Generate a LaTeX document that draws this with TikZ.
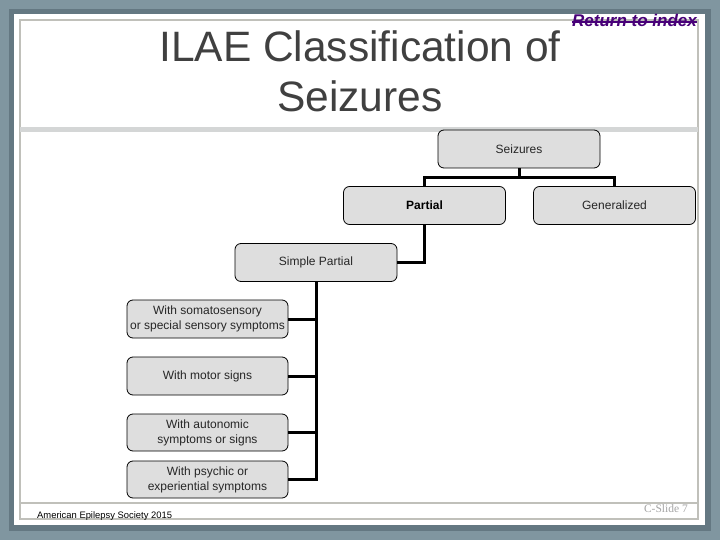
\documentclass[tikz,border=0pt]{standalone}
\usepackage{fontspec}
\setmainfont{Liberation Sans}
\newfontfamily\slidefont{Liberation Serif}
\usetikzlibrary{calc}
\definecolor{figback}{RGB}{128,150,160}
\definecolor{figshade}{RGB}{100,120,130}
\definecolor{figrule}{RGB}{192,192,186}
\definecolor{figband}{RGB}{212,214,214}
\definecolor{figbox}{RGB}{222,222,222}
\definecolor{figtitle}{RGB}{64,64,64}
\definecolor{figlink}{RGB}{72,0,120}
\definecolor{figslide}{RGB}{165,165,165}
\tikzset{
  box/.style  ={draw=black, fill=figbox, line width=0.8pt, rounded corners=6pt,
                minimum width=162pt, minimum height=38pt, inner sep=1pt, align=center,
                font=\fontsize{12}{15}\selectfont, text=black!85},
  boxb/.style ={box, font=\fontsize{12}{15}\selectfont\bfseries, text=black},
  conn/.style ={draw=black, line width=3pt},
  ttl/.style  ={font=\fontsize{42.5}{50}\selectfont, text=figtitle, inner sep=0pt},
  lab/.style  ={inner sep=0pt},
}

\begin{document}
\begin{tikzpicture}[x=1pt,y=-1pt]
  \useasboundingbox (0,0) rectangle (720,540);
  \fill[figback] (0,0) rectangle (720,540);
  \fill[figshade] (9,9) rectangle (711,531);
  \fill[white] (14,14) rectangle (705,525);
  \draw[figrule, line width=2pt] (20,20) rectangle (698,519);
  \fill[figband] (20,127) rectangle (698,132);
  \draw[figrule, line width=2pt] (20,503) -- (698,503);
  % title
  \node[ttl, anchor=base] (title1) at (360,62) {ILAE Classification of};
  \node[ttl, anchor=base] (title2) at (360,112) {Seizures};
  \node[lab, anchor=base east, text=figlink, font=\fontsize{17}{17}\selectfont\bfseries\itshape]
    (index) at (697,27) {Return to index};
  \draw[figlink, line width=1.3pt] ($(index.base west)+(0,-5)$) -- ($(index.base east)+(0,-5)$);
  % tree
  \node[box]  (seiz) at (519,149)   {Seizures};
  \node[boxb] (part) at (424.5,205.5) {Partial};
  \node[box]  (gen)  at (614.5,205.5) {Generalized};
  \node[box]  (simp) at (316,262.5) {Simple Partial};
  \node[box, minimum width=161pt] (soma) at (207.5,319)   {With somatosensory\\or special sensory symptoms};
  \node[box, minimum width=161pt] (motor) at (207.5,376)  {With motor signs};
  \node[box, minimum width=161pt, minimum height=37pt] (auto) at (207.5,432.5) {With autonomic\\symptoms or signs};
  \node[box, minimum width=161pt, minimum height=37pt] (psy) at (207.5,479.5)  {With psychic or\\experiential symptoms};
  \draw[conn] (seiz.south) -- ++(0,9) coordinate (hub);
  \draw[conn] (part.north) |- (hub) -| (gen.north);
  \draw[conn] (part.south) |- (simp.east);
  \foreach \leaf in {soma,motor,auto,psy}
    \draw[conn] (\leaf.east) -| (simp.south);
  % footer
  \node[lab, anchor=base west, font=\fontsize{9.4}{10}\selectfont] (society) at (37,518) {American Epilepsy Society 2015};
  \node[lab, anchor=base east, text=figslide, font=\fontsize{11.5}{12}\slidefont] (slide) at (688,512) {C-Slide 7};
\end{tikzpicture}
\end{document}
